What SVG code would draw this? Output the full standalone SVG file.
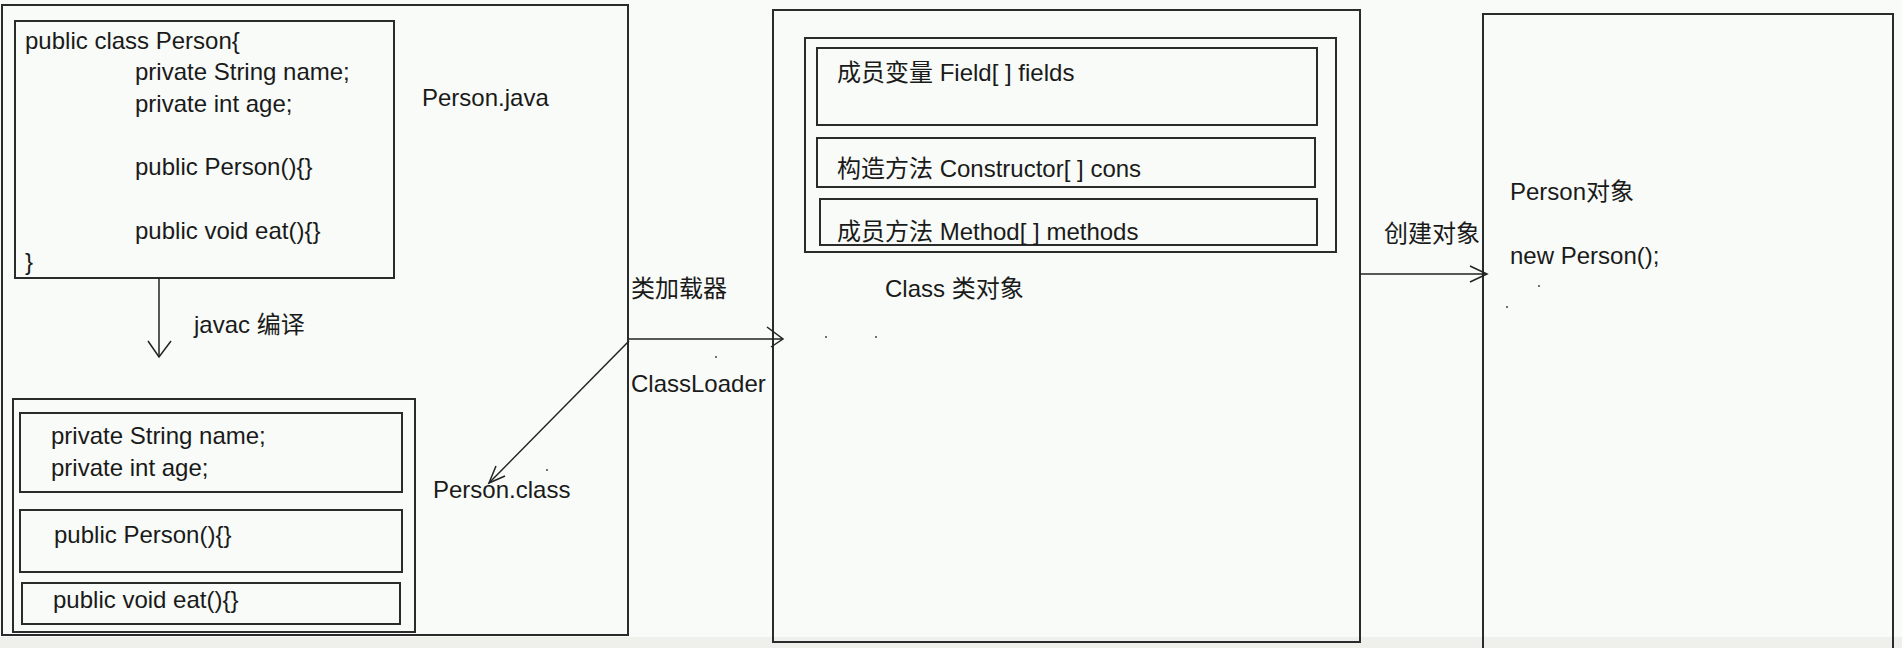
<svg xmlns="http://www.w3.org/2000/svg" width="1902" height="648" viewBox="0 0 1902 648">
<defs>
<style>
.bx{fill:none;stroke:#2b2b2b;stroke-width:2}
.ln{fill:none;stroke:#222;stroke-width:1.5}
.t{font-family:"Liberation Sans","Noto Sans CJK SC",sans-serif;font-size:24px;fill:#1a1a1a}
.dot{fill:#444}
</style>
</defs>
<rect x="0" y="0" width="1902" height="648" fill="#f8fbf7"/>
<rect x="0" y="637" width="1902" height="11" fill="#efefec"/>

<g id="java-file">
<rect class="bx" x="2" y="5" width="626" height="630"/>
<rect class="bx" x="15" y="21" width="379" height="257"/>
<text class="t" x="25" y="49">public class Person{</text>
<text class="t" x="135" y="80">private String name;</text>
<text class="t" x="135" y="112">private int age;</text>
<text class="t" x="135" y="175">public Person(){}</text>
<text class="t" x="135" y="239">public void eat(){}</text>
<text class="t" x="25" y="270">}</text>
<text class="t" x="422" y="106">Person.java</text>
</g>

<g id="class-file">
<rect class="bx" x="13" y="399" width="402" height="233"/>
<rect class="bx" x="20" y="413" width="382" height="79"/>
<text class="t" x="51" y="444">private String name;</text>
<text class="t" x="51" y="476">private int age;</text>
<rect class="bx" x="20" y="510" width="382" height="62"/>
<text class="t" x="54" y="543">public Person(){}</text>
<rect class="bx" x="22" y="583" width="378" height="41"/>
<text class="t" x="53" y="608">public void eat(){}</text>
<text class="t" x="433" y="498">Person.class</text>
</g>

<g id="class-object">
<rect class="bx" x="773" y="10" width="587" height="632"/>
<rect class="bx" x="805" y="38" width="531" height="214"/>
<rect class="bx" x="817" y="48" width="500" height="77"/>
<text class="t" x="837" y="81">成员变量  Field[ ] fields</text>
<rect class="bx" x="817" y="138" width="498" height="49"/>
<text class="t" x="837" y="177">构造方法  Constructor[ ] cons</text>
<rect class="bx" x="820" y="199" width="497" height="46"/>
<text class="t" x="837" y="240">成员方法 Method[ ] methods</text>
<text class="t" x="885" y="297">Class 类对象</text>
</g>

<g id="person-object">
<rect class="bx" x="1483" y="14" width="410" height="640"/>
<text class="t" x="1510" y="200">Person对象</text>
<text class="t" x="1510" y="264">new Person();</text>
</g>

<g id="connectors">
<line class="ln" x1="159" y1="278" x2="159" y2="356"/>
<polyline class="ln" points="148,341 159,357 171,341"/>
<text class="t" x="194" y="333">javac 编译</text>

<line class="ln" x1="629" y1="339" x2="782" y2="339"/>
<polyline class="ln" points="767,327 783,339 771,347"/>
<text class="t" x="631" y="297">类加载器</text>
<text class="t" x="631" y="392">ClassLoader</text>

<line class="ln" x1="629" y1="341" x2="489" y2="483"/>
<polyline class="ln" points="496,466 489,483 505,476"/>

<line class="ln" x1="1360" y1="274" x2="1486" y2="274"/>
<polyline class="ln" points="1470,266 1487,274 1470,282"/>
<text class="t" x="1384" y="242">创建对象</text>
</g>

<g id="specks">
<circle class="dot" cx="826" cy="337" r="1"/>
<circle class="dot" cx="876" cy="337" r="1"/>
<circle class="dot" cx="716" cy="357" r="1"/>
<circle class="dot" cx="547" cy="470" r="1"/>
<circle class="dot" cx="1539" cy="286" r="1"/>
<circle class="dot" cx="1507" cy="307" r="1"/>
</g>
</svg>
